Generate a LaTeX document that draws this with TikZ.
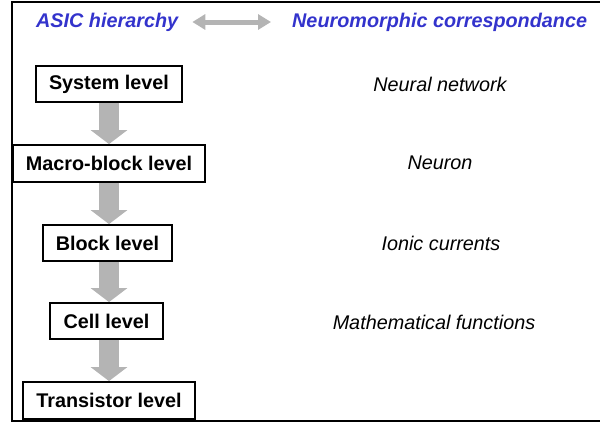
\documentclass[tikz,border=0pt]{standalone}
\usepackage{fontspec}
\setmainfont{Liberation Sans}
\usetikzlibrary{arrows.meta}
\definecolor{hblue}{RGB}{51,51,204}
\definecolor{agray}{RGB}{180,180,180}
\begin{document}
\begin{tikzpicture}[x=1pt,y=-1pt,
  lvl/.style={draw=black,line width=1.8pt,fill=white,inner sep=0pt,font=\fontsize{19.8}{22}\selectfont\bfseries},
  corr/.style={inner sep=0pt,font=\fontsize{19.8}{22}\selectfont\itshape},
  head/.style={inner sep=0pt,text=hblue,font=\fontsize{19.8}{22}\selectfont\bfseries\itshape},
  down/.style={agray,line width=20pt,-{Triangle[width=36pt,length=14pt]}},
  both/.style={agray,line width=5pt,{Triangle[width=15pt,length=13pt]}-{Triangle[width=15pt,length=13pt]}}]
\useasboundingbox (0,0) rectangle (600,423);
\draw[line width=2pt] (601,2) -- (12,2) -- (12,421) -- (601,421);
% header
\node[head,anchor=west] (h1) at (36,22) {ASIC hierarchy};
\node[head,anchor=west] (h2) at (292,22) {Neuromorphic correspondance};
\draw[both] ([xshift=14pt]h1.east) -- ([xshift=-21pt]h2.west);
% levels
\node[lvl,minimum width=146pt,minimum height=36pt] (sys) at (109,84) {System level};
\node[lvl,minimum width=192pt,minimum height=37pt] (mac) at (109,163.5) {Macro-block level};
\node[lvl,minimum width=129pt,minimum height=36pt] (blk) at (107.5,243) {Block level};
\node[lvl,minimum width=113pt,minimum height=36pt] (cel) at (106.5,321) {Cell level};
\node[lvl,minimum width=172pt,minimum height=37pt] (tra) at (109,400.5) {Transistor level};
\draw[down] (sys.south) -- (sys.south|-mac.north);
\draw[down] (mac.south) -- (mac.south|-blk.north);
\draw[down] (mac.south|-blk.south) -- (mac.south|-cel.north);
\draw[down] (mac.south|-cel.south) -- (mac.south|-tra.north);
% correspondences
\node[corr] (c1) at (440,84) {Neural network};
\node[corr] (c2) at (440,163) {Neuron};
\node[corr] (c3) at (441,243) {Ionic currents};
\node[corr] (c4) at (434,322) {Mathematical functions};
\end{tikzpicture}
\end{document}
